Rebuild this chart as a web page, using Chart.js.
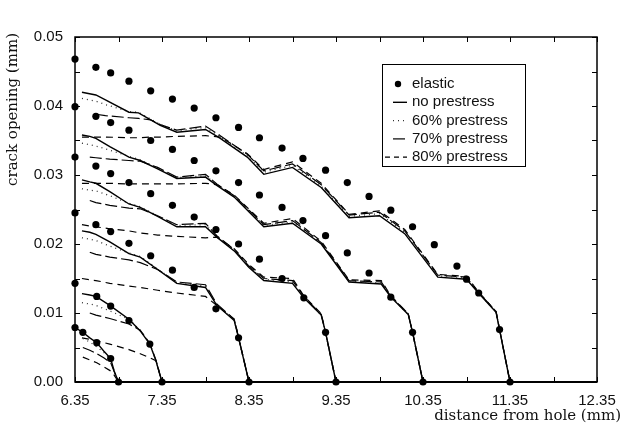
<!DOCTYPE html>
<html>
<head>
<meta charset="utf-8">
<script src="https://cdn.jsdelivr.net/npm/chart.js@4.4.0/dist/chart.umd.min.js"></script>
<style>
  html, body { margin: 0; background: #fff; }
  canvas { display: block; }
</style>
</head>
<body>
<canvas id="myChart" width="626" height="427"></canvas>
<script>
// crack opening profiles for six crack lengths (tip positions in mm)
const xTicks = [6.35, 7.35, 8.35, 9.35, 10.35, 11.35, 12.35];
const yTicks = [0, 0.01, 0.02, 0.03, 0.04, 0.05];
const legendLabels = ['elastic', 'no prestress', '60% prestress', '70% prestress', '80% prestress'];

// tip at 11.35
const elX1135 = [6.35, 6.59, 6.76, 6.97, 7.22, 7.47, 7.72, 7.97, 8.23, 8.47, 8.73, 8.97, 9.23, 9.48, 9.73, 9.98, 10.23, 10.48, 10.74, 10.85, 10.99, 11.23, 11.35];
const el1135 = [0.0468, 0.0456, 0.0448, 0.0436, 0.0422, 0.0410, 0.0397, 0.0383, 0.0369, 0.0354, 0.0339, 0.0324, 0.0307, 0.0289, 0.0269, 0.0249, 0.0225, 0.0199, 0.0168, 0.0149, 0.0129, 0.0076, 0];
const x1135 = [6.43, 6.59, 6.70, 6.97, 7.08, 7.22, 7.33, 7.52, 7.85, 8.02, 8.33, 8.52, 8.85, 9.18, 9.50, 9.85, 10.14, 10.52, 10.85, 10.98, 11.19, 11.23, 11.35];
const no1135 = [0.0420, 0.0416, 0.0409, 0.0391, 0.0390, 0.0380, 0.0372, 0.0362, 0.0366, 0.0353, 0.0326, 0.0301, 0.0311, 0.0282, 0.0238, 0.0241, 0.0215, 0.0152, 0.0149, 0.0130, 0.0101, 0.0076, 0];
const p60_1135 = [0.0411, 0.0407, 0.0402, 0.0392, 0.0391, 0.0381, 0.0373, 0.0364, 0.0369, 0.0355, 0.0328, 0.0304, 0.0314, 0.0284, 0.0240, 0.0244, 0.0217, 0.0154, 0.0151, 0.0131, 0.0101, 0.0076, 0];
const p70_1135 = [null, 0.0388, 0.0386, 0.0383, 0.0382, 0.0380, 0.0373, 0.0365, 0.0371, 0.0357, 0.0330, 0.0306, 0.0316, 0.0286, 0.0242, 0.0246, 0.0219, 0.0155, 0.0152, 0.0131, 0.0102, 0.0076, 0];
const p80_1135 = [0.0355, 0.0355, 0.0355, 0.0354, 0.0354, 0.0355, 0.0355, 0.0356, 0.0357, 0.0355, 0.0331, 0.0308, 0.0319, 0.0288, 0.0243, 0.0248, 0.0221, 0.0156, 0.0153, 0.0132, 0.0102, 0.0076, 0];

// tip at 10.35
const elX1035 = [6.35, 6.59, 6.76, 6.97, 7.22, 7.47, 7.72, 7.97, 8.23, 8.47, 8.73, 8.97, 9.23, 9.48, 9.73, 9.98, 10.23, 10.35];
const el1035 = [0.0399, 0.0385, 0.0376, 0.0365, 0.0350, 0.0337, 0.0321, 0.0306, 0.0289, 0.0271, 0.0253, 0.0234, 0.0212, 0.0187, 0.0158, 0.0123, 0.0072, 0];
const x1035 = [6.43, 6.52, 6.59, 6.75, 6.97, 7.10, 7.30, 7.52, 7.85, 7.98, 8.18, 8.52, 8.85, 9.18, 9.50, 9.87, 9.98, 10.18, 10.23, 10.35];
const no1035 = [0.0358, 0.0356, 0.0353, 0.0341, 0.0326, 0.0321, 0.0309, 0.0295, 0.0297, 0.0285, 0.0268, 0.0225, 0.0230, 0.0200, 0.0145, 0.0142, 0.0123, 0.0098, 0.0072, 0];
const p60_1035 = [0.0346, 0.0344, 0.0342, 0.0336, 0.0327, 0.0322, 0.0310, 0.0296, 0.0299, 0.0286, 0.0269, 0.0227, 0.0232, 0.0201, 0.0146, 0.0144, 0.0124, 0.0098, 0.0072, 0];
const p70_1035 = [null, 0.0326, 0.0325, 0.0323, 0.0321, 0.0320, 0.0311, 0.0297, 0.0301, 0.0287, 0.0270, 0.0228, 0.0234, 0.0202, 0.0147, 0.0145, 0.0124, 0.0099, 0.0072, 0];
const p80_1035 = [0.0288, 0.0288, 0.0288, 0.0288, 0.0287, 0.0287, 0.0287, 0.0287, 0.0288, 0.0286, 0.0271, 0.0230, 0.0237, 0.0204, 0.0148, 0.0147, 0.0125, 0.0099, 0.0072, 0];

// tip at 9.35
const elX935 = [6.35, 6.59, 6.76, 6.97, 7.22, 7.47, 7.72, 7.97, 8.23, 8.47, 8.73, 8.98, 9.23, 9.35];
const el935 = [0.0326, 0.0313, 0.0302, 0.0289, 0.0273, 0.0256, 0.0239, 0.0221, 0.0200, 0.0178, 0.0150, 0.0122, 0.0072, 0];
const x935 = [6.43, 6.52, 6.59, 6.75, 6.97, 7.10, 7.30, 7.52, 7.85, 7.98, 8.18, 8.35, 8.52, 8.85, 8.98, 9.18, 9.23, 9.35];
const no935 = [0.0293, 0.0290, 0.0288, 0.0276, 0.0258, 0.0253, 0.0240, 0.0225, 0.0225, 0.0210, 0.0190, 0.0166, 0.0147, 0.0143, 0.0122, 0.0097, 0.0072, 0];
const p60_935 = [0.0280, 0.0278, 0.0277, 0.0270, 0.0259, 0.0254, 0.0241, 0.0227, 0.0228, 0.0211, 0.0191, 0.0167, 0.0149, 0.0145, 0.0123, 0.0097, 0.0072, 0];
const p70_935 = [null, 0.0263, 0.0260, 0.0256, 0.0252, 0.0251, 0.0241, 0.0228, 0.0230, 0.0212, 0.0192, 0.0168, 0.0150, 0.0147, 0.0124, 0.0098, 0.0072, 0];
const p80_935 = [0.0228, 0.0226, 0.0225, 0.0222, 0.0219, 0.0216, 0.0213, 0.0211, 0.0209, 0.0210, 0.0193, 0.0170, 0.0152, 0.0150, 0.0125, 0.0099, 0.0072, 0];

// tip at 8.35
const elX835 = [6.35, 6.59, 6.76, 6.97, 7.22, 7.47, 7.72, 7.97, 8.23, 8.35];
const el835 = [0.0245, 0.0228, 0.0218, 0.0201, 0.0183, 0.0162, 0.0137, 0.0106, 0.0064, 0];
const x835 = [6.43, 6.52, 6.59, 6.75, 6.97, 7.10, 7.30, 7.52, 7.85, 7.98, 8.18, 8.23, 8.35];
const no835 = [0.0219, 0.0217, 0.0214, 0.0203, 0.0186, 0.0181, 0.0163, 0.0143, 0.0137, 0.0111, 0.0089, 0.0064, 0];
const p60_835 = [0.0209, 0.0207, 0.0205, 0.0197, 0.0187, 0.0182, 0.0164, 0.0144, 0.0139, 0.0112, 0.0090, 0.0064, 0];
const p70_835 = [null, 0.0188, 0.0185, 0.0181, 0.0177, 0.0173, 0.0163, 0.0145, 0.0141, 0.0113, 0.0091, 0.0065, 0];
const p80_835 = [0.0150, 0.0148, 0.0147, 0.0143, 0.0139, 0.0137, 0.0133, 0.0129, 0.0124, 0.0111, 0.0091, 0.0065, 0];

// tip at 7.35
const elX735 = [6.35, 6.60, 6.76, 6.97, 7.21, 7.35];
const el735 = [0.0143, 0.0124, 0.0110, 0.0089, 0.0055, 0];
const x735 = [6.43, 6.52, 6.59, 6.75, 6.97, 7.10, 7.21, 7.28, 7.35];
const no735 = [0.0128, 0.0126, 0.0124, 0.0111, 0.0091, 0.0074, 0.0055, 0.0031, 0];
const p60_735 = [0.0115, 0.0113, 0.0111, 0.0103, 0.0091, 0.0075, 0.0055, 0.0031, 0];
const p70_735 = [null, 0.0100, 0.0097, 0.0092, 0.0084, 0.0075, 0.0056, 0.0032, 0];
const p80_735 = [0.0064, 0.0062, 0.0060, 0.0055, 0.0047, 0.0041, 0.0035, 0.0031, 0];

// tip at 6.85
const elX685 = [6.35, 6.44, 6.60, 6.76, 6.85];
const el685 = [0.0079, 0.0072, 0.0057, 0.0034, 0];
const x685 = [6.35, 6.44, 6.52, 6.60, 6.68, 6.76, 6.80, 6.85];
const no685 = [0.0079, 0.0072, 0.0064, 0.0057, 0.0045, 0.0034, 0.0016, 0];
const p60_685 = [null, 0.0063, 0.0058, 0.0051, 0.0043, 0.0033, 0.0016, 0];
const p70_685 = [null, 0.0050, 0.0046, 0.0041, 0.0035, 0.0028, 0.0015, 0];
const p80_685 = [null, 0.0036, 0.0032, 0.0028, 0.0022, 0.0016, 0.0010, 0];

// line styles: no prestress, 60%, 70%, 80%
const lineStyles = [
    { dash: [], width: 1.4, color: '#000' },
    { dash: [1, 4], width: 1.3, color: '#333' },
    { dash: [12, 4], width: 1.2, color: '#000' },
    { dash: [7, 5], width: 1.2, color: '#000' }
];

const cracks = [
    { elX: elX1135, el: el1135, x: x1135, lines: [no1135, p60_1135, p70_1135, p80_1135] },
    { elX: elX1035, el: el1035, x: x1035, lines: [no1035, p60_1035, p70_1035, p80_1035] },
    { elX: elX935, el: el935, x: x935, lines: [no935, p60_935, p70_935, p80_935] },
    { elX: elX835, el: el835, x: x835, lines: [no835, p60_835, p70_835, p80_835] },
    { elX: elX735, el: el735, x: x735, lines: [no735, p60_735, p70_735, p80_735] },
    { elX: elX685, el: el685, x: x685, lines: [no685, p60_685, p70_685, p80_685] }
];

function toPoints(xs, ys) {
    const pts = [];
    xs.forEach((v, i) => {
        if (ys[i] !== null) pts.push({ x: v, y: ys[i] });
    });
    return pts;
}

const datasets = [];
cracks.forEach(c => {
    datasets.push({
        label: 'elastic',
        data: toPoints(c.elX, c.el),
        showLine: false,
        pointRadius: 3.6,
        pointBackgroundColor: '#000',
        pointBorderWidth: 0,
        order: 0,
        clip: false
    });
    c.lines.forEach((ys, k) => {
        const s = lineStyles[k];
        datasets.push({
            label: legendLabels[k + 1],
            data: toPoints(c.x, ys),
            showLine: true,
            pointRadius: 0,
            borderColor: s.color,
            borderWidth: s.width,
            borderDash: s.dash,
            tension: 0,
            order: 1 + k,
            clip: false
        });
    });
});

// box, inward tick marks, axis titles and legend
const decorations = {
    id: 'decorations',
    afterDatasetsDraw(chart) {
        const { ctx, chartArea: a, scales: { x, y } } = chart;
        ctx.save();
        ctx.strokeStyle = '#000';
        ctx.lineWidth = 1.5;
        ctx.strokeRect(a.left, a.top, a.right - a.left, a.bottom - a.top);
        ctx.lineWidth = 2;
        ctx.beginPath();
        ctx.moveTo(a.left, a.bottom);
        ctx.lineTo(a.right, a.bottom);
        ctx.stroke();

        ctx.lineWidth = 1;
        ctx.beginPath();
        for (let v = xTicks[0]; v <= xTicks[xTicks.length - 1] + 0.01; v += 0.5) {
            const px = Math.round(x.getPixelForValue(v)) + 0.5;
            ctx.moveTo(px, a.bottom); ctx.lineTo(px, a.bottom - 5);
            ctx.moveTo(px, a.top); ctx.lineTo(px, a.top + 5);
        }
        for (let v = 0; v <= 0.0501; v += 0.005) {
            const py = Math.round(y.getPixelForValue(v)) + 0.5;
            ctx.moveTo(a.left, py); ctx.lineTo(a.left + 5, py);
            ctx.moveTo(a.right, py); ctx.lineTo(a.right - 5, py);
        }
        ctx.stroke();
        ctx.restore();
    },
    afterDraw(chart) {
        const { ctx } = chart;
        ctx.save();
        ctx.fillStyle = '#111';
        ctx.font = '15px "DejaVu Serif"';
        ctx.textBaseline = 'middle';
        ctx.textAlign = 'right';
        ctx.fillText('distance from hole (mm)', 621, 416);
        ctx.translate(13, 33);
        ctx.rotate(-Math.PI / 2);
        ctx.fillText('crack opening (mm)', 0, 0);
        ctx.restore();

        // legend
        const bx = 382, by = 64, bw = 143, bh = 102;
        ctx.save();
        ctx.strokeStyle = '#000';
        ctx.lineWidth = 1;
        ctx.strokeRect(bx + 0.5, by + 0.5, bw, bh);
        ctx.font = '15px "Liberation Sans"';
        ctx.fillStyle = '#111';
        ctx.textBaseline = 'middle';
        legendLabels.forEach((lab, i) => {
            const ry = by + 20 + i * 18.3;
            if (i === 0) {
                ctx.fillStyle = '#000';
                ctx.beginPath();
                ctx.arc(398, ry, 3.2, 0, Math.PI * 2);
                ctx.fill();
            } else {
                const s = lineStyles[i - 1];
                ctx.strokeStyle = s.color;
                ctx.lineWidth = s.width;
                ctx.setLineDash(i === 4 ? [5, 4] : s.dash);
                ctx.beginPath();
                ctx.moveTo(i === 4 ? 385 : 393, ry);
                ctx.lineTo(407, ry);
                ctx.stroke();
                ctx.setLineDash([]);
            }
            ctx.fillStyle = '#111';
            ctx.fillText(lab, 412, ry);
        });
        ctx.restore();
    }
};

const ctx = document.getElementById('myChart').getContext('2d');
const myChart = new Chart(ctx, {
    type: 'scatter',
    data: { datasets: datasets },
    options: {
        responsive: false,
        animation: false,
        events: [],
        layout: { padding: { left: 0, top: 37, right: 29, bottom: 0 } },
        plugins: { legend: { display: false }, tooltip: { enabled: false } },
        scales: {
            x: {
                type: 'linear',
                min: xTicks[0],
                max: xTicks[xTicks.length - 1],
                afterBuildTicks: s => { s.ticks = xTicks.map(v => ({ value: v })); },
                afterFit: s => { s.height = 45; },
                grid: { display: false, drawTicks: false },
                border: { display: false },
                ticks: {
                    padding: 10,
                    color: '#111',
                    font: { family: 'Liberation Sans', size: 15 },
                    maxRotation: 0,
                    callback: v => v.toFixed(2)
                }
            },
            y: {
                type: 'linear',
                min: yTicks[0],
                max: yTicks[yTicks.length - 1],
                afterBuildTicks: s => { s.ticks = yTicks.map(v => ({ value: v })); },
                afterFit: s => { s.width = 75; },
                grid: { display: false, drawTicks: false },
                border: { display: false },
                ticks: {
                    padding: 12,
                    color: '#111',
                    font: { family: 'Liberation Sans', size: 15 },
                    callback: v => v.toFixed(2)
                }
            }
        }
    },
    plugins: [decorations]
});
</script>
</body>
</html>
